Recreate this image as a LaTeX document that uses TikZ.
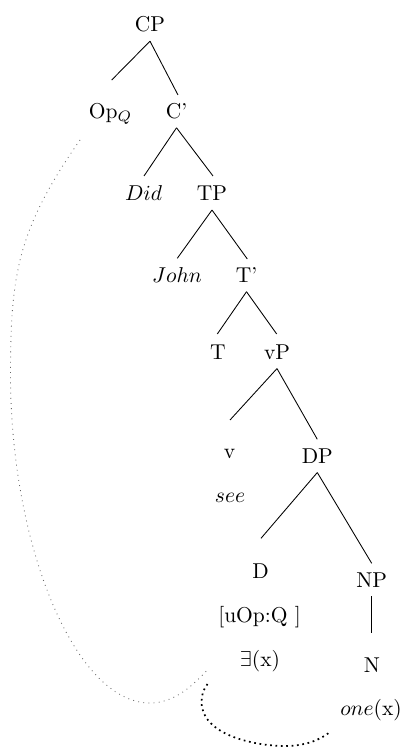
\documentclass[tikz,border=0pt]{standalone}
\begin{document}
\begin{tikzpicture}[x=0.4651pt,y=-0.4651pt,
  lbl/.style={inner sep=4pt, anchor=base},
  branch/.style={line width=0.4pt},
  opline/.style={line width=0.4pt, black!60, dotted},
  bindline/.style={line width=0.8pt, dash pattern=on 0.8pt off 1.7pt}]
\useasboundingbox (0,0) rectangle (405,747);
% nodes
\node[lbl] (cp)   at (150,31.7)  {CP};
\node[lbl] (opq)  at (110.5,118.3) {Op$_Q$};
\node[lbl] (cbar) at (176.5,118.3) {C'};
\node[lbl] (did)  at (143.5,201) {$Did$};
\node[lbl] (tp)   at (212,201) {TP};
\node[lbl] (john) at (177,282.7) {$John$};
\node[lbl] (tbar) at (246.5,282.7) {T'};
\node[lbl] (t)    at (218,359.3) {T};
\node[lbl] (vp)   at (277,359.3) {vP};
\node[lbl] (v)    at (229.5,458) {v};
\node[lbl] (see)  at (230,502) {$see$};
\node[lbl] (dp)   at (317.3,463.5) {DP};
\node[lbl] (d)    at (260.5,578) {D};
\node[lbl] (feat) at (259.5,622) {[uOp:Q ]};
\node[lbl] (ex)   at (260,666) {$\exists$(x)};
\node[lbl] (np)   at (371.7,587) {NP};
\node[lbl] (n)    at (372,672) {N};
\node[lbl] (one)  at (371,715) {$one$(x)};
% branch end points
\coordinate (opq-t)  at (111.7,80);
\coordinate (cbar-t) at (178,95);
\coordinate (did-t)  at (144,176);
\coordinate (tp-t)   at (213,176);
\coordinate (john-t) at (177.3,258.3);
\coordinate (tbar-t) at (247.3,259);
\coordinate (t-t)    at (217.3,334);
\coordinate (vp-t)   at (276.7,334);
\coordinate (v-t)    at (230,420);
\coordinate (dp-t)   at (317.3,439.3);
\coordinate (d-t)    at (261,538.3);
\coordinate (np-t)   at (371.7,563.3);
\coordinate (n-t)    at (371.7,633.3);
% branches
\draw[branch] (cp.south) -- (opq-t);
\draw[branch] (cp.south) -- (cbar-t);
\draw[branch] (cbar.south) -- (did-t);
\draw[branch] (cbar.south) -- (tp-t);
\draw[branch] (tp.south) -- (john-t);
\draw[branch] (tp.south) -- (tbar-t);
\draw[branch] (tbar.south) -- (t-t);
\draw[branch] (tbar.south) -- (vp-t);
\draw[branch] (vp.south) -- (v-t);
\draw[branch] (vp.south) -- (dp-t);
\draw[branch] (dp.south) -- (d-t);
\draw[branch] (dp.south) -- (np-t);
\draw[branch] (np.south) -- (n-t);
% dotted links
\coordinate (op-s) at (80,140);
\coordinate (ex-w) at (207.3,670);
\coordinate (ex-s) at (207.5,684);
\coordinate (one-s) at (330,732);
\draw[opline] (op-s) .. controls (17.3,230) and (10.5,275) .. (10.5,375)
  .. controls (10.5,545) and (75,703) .. (150,703)
  .. controls (175,703) and (193.7,684.6) .. (ex-w);
\draw[bindline] (ex-s) .. controls (203,690) and (201.5,696) .. (201.5,702)
  .. controls (201.5,735) and (255,746) .. (285,746)
  .. controls (305,746) and (320,740) .. (one-s);
\end{tikzpicture}
\end{document}
